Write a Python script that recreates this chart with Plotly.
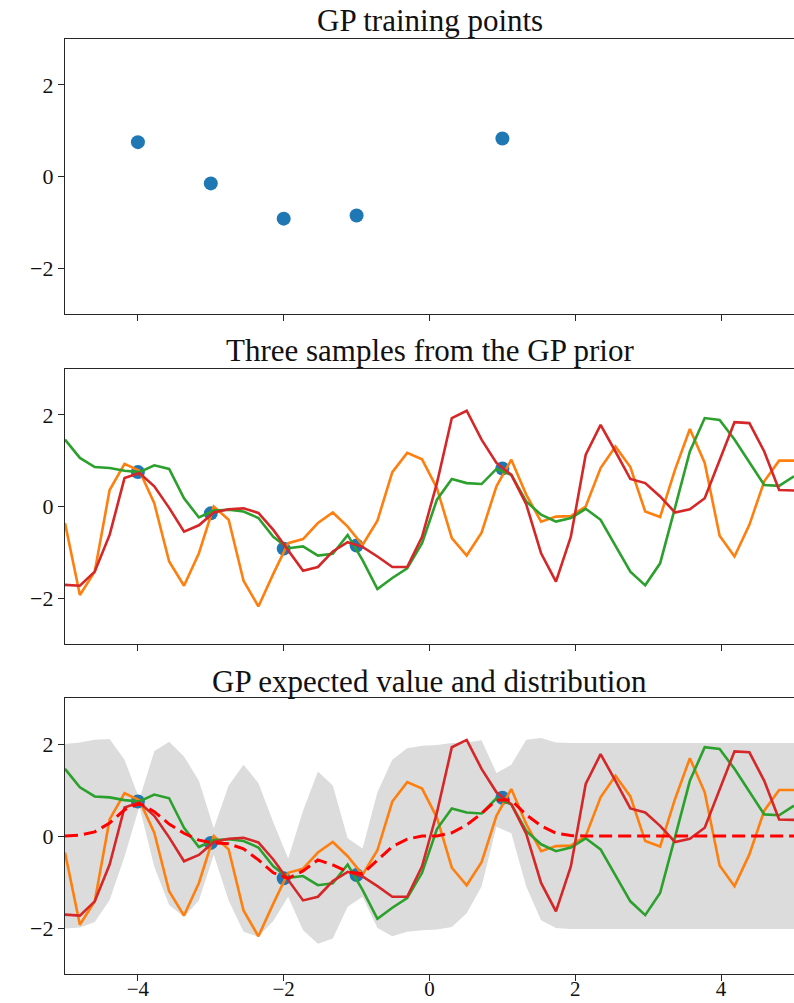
import numpy as np
import plotly.graph_objects as go

# ---------------- data ----------------
TRAIN_X = [-4, -3, -2, -1, 1]
TRAIN_Y = [0.75, -0.15, -0.92, -0.85, 0.83]

X_GRID = np.linspace(-5, 5, 50)

SAMPLE_ORANGE = [-0.36, -1.93, -1.42, 0.36, 0.93, 0.78, 0.07, -1.20, -1.73, -1.02,
                 0.00, -0.29, -1.62, -2.18, -1.47, -0.80, -0.71, -0.36, -0.13, -0.44,
                 -0.84, -0.31, 0.75, 1.17, 1.03, 0.40, -0.69, -1.07, -0.57, 0.44,
                 1.02, 0.26, -0.33, -0.22, -0.21, 0.00, 0.84, 1.31, 0.86, -0.11,
                 -0.23, 0.80, 1.69, 0.95, -0.64, -1.09, -0.40, 0.55, 1.00, 1.00]

SAMPLE_GREEN = [1.46, 1.06, 0.86, 0.84, 0.78, 0.75, 0.90, 0.82, 0.18, -0.24,
                -0.09, -0.07, -0.11, -0.25, -0.66, -0.91, -0.87, -1.07, -1.03, -0.62,
                -1.17, -1.80, -1.56, -1.35, -0.80, 0.15, 0.60, 0.51, 0.49, 0.82,
                0.69, 0.11, -0.18, -0.33, -0.25, -0.05, -0.29, -0.87, -1.42, -1.72,
                -1.24, -0.03, 1.20, 1.93, 1.89, 1.46, 0.95, 0.47, 0.45, 0.66]

SAMPLE_RED = [-1.71, -1.73, -1.42, -0.62, 0.62, 0.73, 0.44, -0.03, -0.55, -0.41,
              -0.13, -0.06, -0.04, -0.14, -0.51, -0.95, -1.40, -1.32, -0.98, -0.78,
              -0.88, -1.09, -1.32, -1.32, -0.66, 0.51, 1.93, 2.09, 1.46, 0.95,
              0.69, 0.05, -1.02, -1.64, -0.66, 1.13, 1.78, 1.20, 0.60, 0.51,
              0.22, -0.13, -0.06, 0.18, 1.02, 1.84, 1.82, 1.20, 0.36, 0.35]

POST_MEAN = [0.00, 0.02, 0.09, 0.28, 0.57, 0.71, 0.53, 0.26, 0.06, -0.09,
             -0.15, -0.17, -0.28, -0.52, -0.80, -0.92, -0.76, -0.52, -0.63, -0.78,
             -0.82, -0.52, -0.23, -0.07, 0.00, 0.00, 0.07, 0.24, 0.49, 0.78,
             0.78, 0.46, 0.22, 0.06, 0.01, 0.00, 0.00, 0.00, 0.00, 0.00,
             0.00, 0.00, 0.00, 0.00, 0.00, 0.00, 0.00, 0.00, 0.00, 0.00]

BAND_UPPER = [2.00, 2.03, 2.09, 2.11, 1.66, 0.80, 1.84, 2.05, 1.73, 1.20,
              0.17, 1.10, 1.55, 1.15, 0.30, -0.49, 0.55, 1.40, 1.10, -0.05,
              -0.27, 0.95, 1.66, 1.91, 1.96, 1.98, 2.02, 2.03, 2.08, 1.37,
              1.55, 2.09, 2.13, 2.03, 2.02, 2.02, 2.02, 2.02, 2.02, 2.02,
              2.02, 2.02, 2.02, 2.02, 2.02, 2.02, 2.02, 2.02, 2.02, 2.02]

BAND_LOWER = [-2.01, -1.99, -1.87, -1.39, -0.45, 0.64, -0.67, -1.50, -1.76, -1.40,
              -0.41, -1.40, -2.08, -2.19, -1.85, -1.32, -2.05, -2.34, -2.23, -1.54,
              -1.32, -2.00, -2.18, -2.08, -2.05, -2.03, -1.98, -1.68, -1.10, 0.20,
              0.06, -1.10, -1.83, -2.00, -2.02, -2.02, -2.02, -2.02, -2.02, -2.02,
              -2.02, -2.02, -2.02, -2.02, -2.02, -2.02, -2.02, -2.02, -2.02, -2.02]

TITLES = ["GP training points", "Three samples from the GP prior",
          "GP expected value and distribution"]
X_TICKS = [-4, -2, 0, 2, 4]
Y_TICKS = [-2, 0, 2]

# ---------------- styling ----------------
W, H = 794, 1003
BLUE, ORANGE, GREEN, RED = "#1f77b4", "#ff7f0e", "#2ca02c", "#d62728"
FONT = "Liberation Serif"
LW = 2.6

# panel pixel extents (top, bottom)
PANELS = [(39, 314), (369, 644), (698, 974)]
TITLE_Y = [20, 350, 681]

fig = go.Figure()


def pts(ax):
    return go.Scatter(x=TRAIN_X, y=TRAIN_Y, mode="markers",
                      marker=dict(color=BLUE, size=14, line=dict(width=0)),
                      xaxis=f"x{ax}", yaxis=f"y{ax}", showlegend=False,
                      hoverinfo="skip")


def sample(ax, ys, color):
    return go.Scatter(x=X_GRID, y=ys, mode="lines",
                      line=dict(color=color, width=LW),
                      xaxis=f"x{ax}", yaxis=f"y{ax}", showlegend=False,
                      hoverinfo="skip")


# panel 1
fig.add_trace(pts(""))
# panel 2
fig.add_trace(pts("2"))
for ys, c in [(SAMPLE_ORANGE, ORANGE), (SAMPLE_GREEN, GREEN), (SAMPLE_RED, RED)]:
    fig.add_trace(sample("2", ys, c))
# panel 3
fig.add_trace(go.Scatter(x=X_GRID, y=BAND_UPPER, mode="lines", line=dict(width=0),
                         xaxis="x3", yaxis="y3", showlegend=False, hoverinfo="skip"))
fig.add_trace(go.Scatter(x=X_GRID, y=BAND_LOWER, mode="lines", line=dict(width=0),
                         fill="tonexty", fillcolor="#dcdcdc",
                         xaxis="x3", yaxis="y3", showlegend=False, hoverinfo="skip"))
fig.add_trace(pts("3"))
for ys, c in [(SAMPLE_ORANGE, ORANGE), (SAMPLE_GREEN, GREEN), (SAMPLE_RED, RED)]:
    fig.add_trace(sample("3", ys, c))
fig.add_trace(go.Scatter(x=X_GRID, y=POST_MEAN, mode="lines",
                         line=dict(color="#ff0000", width=3, dash="13px,6px"),
                         xaxis="x3", yaxis="y3", showlegend=False, hoverinfo="skip"))

axis_common = dict(showline=True, mirror=True, linecolor="#262626", linewidth=1.2,
                   ticks="outside", ticklen=6, tickwidth=1.1, tickcolor="#262626",
                   showgrid=False, zeroline=False, automargin=False,
                   tickfont=dict(family=FONT, size=22, color="#111111"))

layout = dict(width=W, height=H, margin=dict(l=65, r=0, t=0, b=0, autoexpand=False),
              plot_bgcolor="white", paper_bgcolor="white", showlegend=False)

suffixes = ["", "2", "3"]
for k, (top, bot) in enumerate(PANELS):
    s = suffixes[k]
    dom = [1 - bot / H, 1 - top / H]
    xa = dict(axis_common, range=[-5, 5], tickvals=X_TICKS,
              ticktext=["\u2212" + str(-v) if v < 0 else str(v) for v in X_TICKS],
              showticklabels=(k == 2), anchor=f"y{s}", domain=[0, 1],
              ticklabelstandoff=-10,
              tickfont=dict(family=FONT, size=21, color="#111111"))
    ya = dict(axis_common, range=[-3, 3], tickvals=Y_TICKS,
              ticktext=["\u2212" + str(-v) if v < 0 else str(v) for v in Y_TICKS],
              anchor=f"x{s}", domain=dom)
    layout[f"xaxis{s}"] = xa
    layout[f"yaxis{s}"] = ya

annotations = []
for k, t in enumerate(TITLES):
    annotations.append(dict(text=t, x=0.5, xref="paper", y=1 - TITLE_Y[k] / H,
                            yref="paper", xanchor="center", yanchor="middle",
                            showarrow=False,
                            font=dict(family=FONT, size=31, color="#111111")))
layout["annotations"] = annotations

fig.update_layout(**layout)
fig.write_html("out.html")
